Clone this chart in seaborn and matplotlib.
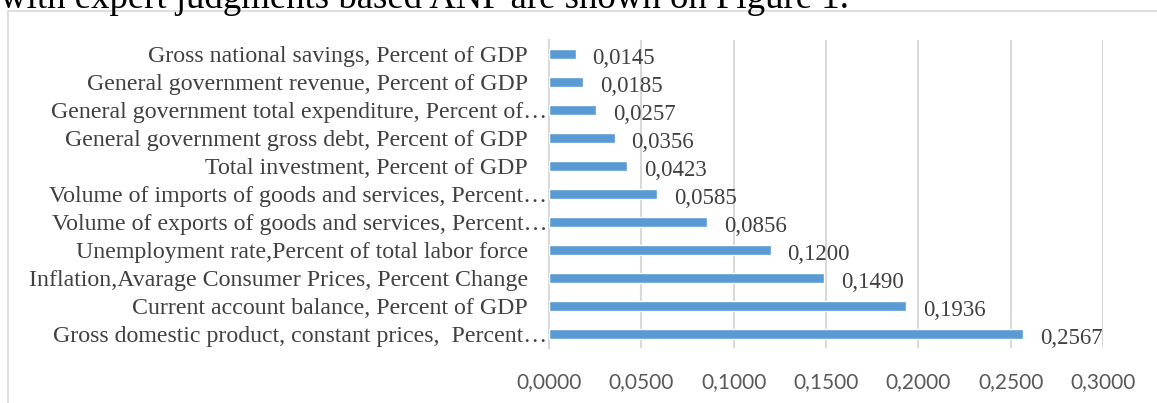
import pandas as pd
import matplotlib.pyplot as plt
import seaborn as sns
from matplotlib.patches import Rectangle
from matplotlib.transforms import ScaledTranslation

# Data (top to bottom as in the chart)
categories = [
    "Gross national savings, Percent of GDP",
    "General government revenue, Percent of GDP",
    "General government total expenditure, Percent of…",
    "General government gross debt, Percent of GDP",
    "Total investment, Percent of GDP",
    "Volume of imports of goods and services, Percent…",
    "Volume of exports of goods and services, Percent…",
    "Unemployment rate,Percent of total labor force",
    "Inflation,Avarage Consumer Prices, Percent Change",
    "Current account balance, Percent of GDP",
    "Gross domestic product, constant prices,  Percent…",
]
weights = [0.0145, 0.0185, 0.0257, 0.0356, 0.0423, 0.0585,
           0.0856, 0.1200, 0.1490, 0.1936, 0.2567]
xticks = [0.0, 0.05, 0.10, 0.15, 0.20, 0.25, 0.30]

df = pd.DataFrame({"category": categories, "weight": weights})

sns.set_style("white")
plt.rcParams['font.family'] = ['Liberation Serif', 'DejaVu Serif']

fig = plt.figure(figsize=(11.57, 4.03), dpi=100)
ax = fig.add_axes([0.4745, 0.1365, 0.4788, 0.7642])

sns.barplot(data=df, x="weight", y="category", orient="h", color="#5B9BD5",
            saturation=1, width=0.38, ax=ax, zorder=3)

ax.set_xlim(0, 0.3)
ax.set_xticks(xticks)
ax.set_xticklabels([f"{t:.4f}".replace(".", ",") for t in xticks],
                   family=['Lato', 'DejaVu Sans'], fontsize=15, color="#595959")
ax.tick_params(axis="x", length=0, pad=17)
ax.tick_params(axis="y", length=0, pad=15)
for lbl in ax.get_yticklabels():
    lbl.set_fontsize(17.2)
    lbl.set_color("#404040")
    # truncated labels run right up to the axis, like in the original
    if lbl.get_text().endswith("…"):
        lbl.set_transform(lbl.get_transform() +
                          ScaledTranslation(0.19, 0, fig.dpi_scale_trans))
ax.set_xlabel("")
ax.set_ylabel("")
ax.grid(axis="x", color="#d9d9d9", linewidth=1.5, zorder=0)
for s in ["top", "right", "bottom"]:
    ax.spines[s].set_visible(False)
ax.spines["left"].set_color("#d9d9d9")
ax.spines["left"].set_linewidth(1.5)

# value labels
for i, v in enumerate(weights):
    ax.annotate(f"{v:.4f}".replace(".", ","), xy=(v, i), xytext=(12, -3),
                textcoords="offset points", va="center", ha="left",
                fontsize=16.5, color="#404040")

# chart frame and cut-off document text
fig.patches.append(Rectangle((8 / 1157, -0.1), 1.2, 1.1 - 11 / 403,
                             transform=fig.transFigure, fill=False,
                             edgecolor="#d9d9d9", linewidth=1.2))
fig.text(0.0, 1 - 8 / 403, "with expert judgments based ANP are shown on Figure 1.",
         fontsize=26.5, color="black", va="baseline", ha="left")

fig.savefig("out.png", dpi=100)
